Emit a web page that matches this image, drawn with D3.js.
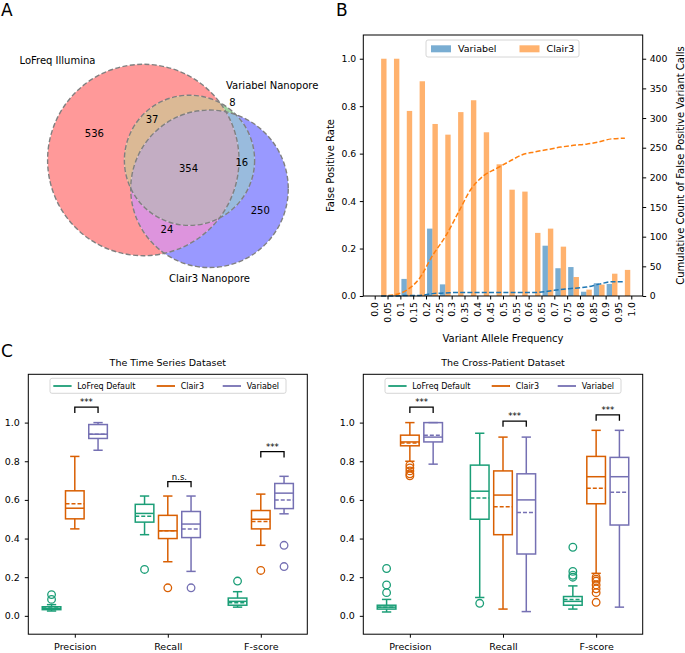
<!DOCTYPE html>
<html>
<head>
<meta charset="utf-8">
<script src="https://cdn.jsdelivr.net/npm/d3@7"></script>
<style>
  body { margin: 0; background: #fff; }
  svg text { font-family: "DejaVu Sans", sans-serif; fill: #000; }
</style>
</head>
<body>
<div id="fig"></div>
<script>
/* ---------- panel A : venn counts ---------- */
var vennSetNames = ["LoFreq Illumina", "Variabel Nanopore", "Clair3 Nanopore"];
var vennRegionCodes = ["100", "010", "001", "110", "101", "011", "111"];
var vennCounts = [536, 8, 250, 37, 24, 16, 354];
var vennColors = ["#ff9999", "#9fd39f", "#9999ff", "#dbb995", "#dd94dd", "#99bbdd", "#c3adc3"];

/* ---------- panel B : false positives by VAF ---------- */
var vafTickLabels = ["0.0", "0.05", "0.1", "0.15", "0.2", "0.25", "0.3", "0.35", "0.4", "0.45", "0.5",
                     "0.55", "0.6", "0.65", "0.7", "0.75", "0.8", "0.85", "0.9", "0.95", "1.0"];
var vafBinCenters = [0.025, 0.075, 0.125, 0.175, 0.225, 0.275, 0.325, 0.375, 0.425, 0.475,
                     0.525, 0.575, 0.625, 0.675, 0.725, 0.775, 0.825, 0.875, 0.925, 0.975];
var variabelRate = [0, 0, 0.072, 0, 0.284, 0.049, 0, 0, 0, 0,
                    0, 0, 0, 0.212, 0.117, 0.122, 0.018, 0.054, 0.051, 0];
var clair3Rate = [1.0, 1.0, 0.78, 0.905, 0.725, 0.68, 0.775, 0.825, 0.69, 0.555,
                  0.448, 0.44, 0.266, 0.284, 0.208, 0.08, 0.027, 0.048, 0.094, 0.11];
var variabelCum = [0, 0, 1, 1, 4, 5, 6, 6, 6, 6, 6, 6, 6, 8, 11, 13, 15, 20, 24, 24];
var clair3Cum = [0, 2, 10, 30, 68, 100, 140, 180, 203, 215,
                 227, 238, 243, 247, 251, 254, 256, 260, 265, 266];

/* ---------- panel C : box statistics [low, q1, median, q3, high, mean] ---------- */
var metrics = ["Precision", "Recall", "F-score"];
var callers = ["LoFreq Default", "Clair3", "Variabel"];
var callerColors = ["#1b9e77", "#d95f02", "#7570b3"];

var tsLofreq = [[0.025, 0.032, 0.038, 0.047, 0.058, 0.040], [0.42, 0.485, 0.53, 0.577, 0.62, 0.515], [0.045, 0.055, 0.075, 0.092, 0.125, 0.068]];
var tsClair3 = [[0.45, 0.502, 0.557, 0.647, 0.825, 0.58], [0.28, 0.40, 0.44, 0.52, 0.62, 0.44], [0.365, 0.45, 0.50, 0.545, 0.63, 0.488]];
var tsVariabel = [[0.857, 0.918, 0.94, 0.99, 1.0, 0.94], [0.23, 0.405, 0.475, 0.54, 0.62, 0.45], [0.528, 0.555, 0.635, 0.685, 0.722, 0.60]];
var tsLofreqOut = [[0.085, 0.11], [0.24], [0.18]];
var tsClair3Out = [[], [0.145], [0.235]];
var tsVariabelOut = [[], [0.145], [0.365, 0.255]];

var cpLofreq = [[0.02, 0.035, 0.045, 0.055, 0.085, 0.045], [0.095, 0.50, 0.645, 0.78, 0.945, 0.61], [0.035, 0.055, 0.075, 0.10, 0.155, 0.085]];
var cpClair3 = [[0.80, 0.88, 0.90, 0.935, 1.0, 0.895], [0.035, 0.42, 0.625, 0.75, 0.925, 0.565], [0.22, 0.58, 0.72, 0.825, 0.96, 0.66]];
var cpVariabel = [[0.785, 0.90, 0.925, 1.0, 1.0, 0.935], [0.022, 0.32, 0.60, 0.735, 0.925, 0.535], [0.045, 0.47, 0.72, 0.82, 0.96, 0.64]];
var cpLofreqOut = [[0.12, 0.16, 0.245], [0.065], [0.20, 0.21, 0.23, 0.355]];
var cpClair3Out = [[0.78, 0.765, 0.75, 0.735, 0.725], [], [0.20, 0.19, 0.18, 0.16, 0.14, 0.12, 0.07]];
var cpVariabelOut = [[], [], []];

/* significance brackets: metric index, bracket base value, label */
var tsSig = [[0, 1.05, "***"], [1, 0.665, "n.s."], [2, 0.82, "***"]];
var cpSig = [[0, 1.05, "***"], [1, 0.978, "***"], [2, 1.01, "***"]];

var W = 685, H = 653;
var svg = d3.select("#fig").append("svg")
    .attr("width", W)
    .attr("height", H)
    .style("display", "block");
svg.append("rect").attr("width", W).attr("height", H).attr("fill", "#fff");

function panelLetter(txt, x, y) {
    svg.append("text").attr("x", x).attr("y", y).attr("font-size", 17).text(txt);
}
panelLetter("A", 1, 16);
panelLetter("B", 336, 16);
panelLetter("C", 1, 357);

/* ================= A : venn ================= */
function drawVenn() {
    var cnt = {};
    vennRegionCodes.forEach(function (c, i) { cnt[c] = vennCounts[i]; });
    function setTotal(k) {
        return d3.sum(vennRegionCodes, function (c) { return c[k] === "1" ? cnt[c] : 0; });
    }
    // circle sizes follow set totals, centres are placed by hand (layout)
    var rScale = d3.scaleSqrt().domain([0, 951]).range([0, 95.7]);
    var radii = [0, 1, 2].map(function (k) { return rScale(setTotal(k)); });
    radii[1] = radii[1] * 1.03;
    var cen = [[143.3, 160], [189.5, 160.3], [209.5, 188.8]];
    // small nudges so the counts sit where the original puts them
    var nudge = { "100": [-14, -18], "010": [5, -7], "001": [15, -2], "110": [-10, -4] };

    var defs = svg.append("defs");
    cen.forEach(function (c, i) {
        defs.append("clipPath").attr("id", "vin" + i)
            .append("circle").attr("cx", c[0]).attr("cy", c[1]).attr("r", radii[i]);
        var m = defs.append("mask").attr("id", "vout" + i);
        m.append("rect").attr("width", W).attr("height", H).attr("fill", "#fff");
        m.append("circle").attr("cx", c[0]).attr("cy", c[1]).attr("r", radii[i]).attr("fill", "#000");
    });
    var gA = svg.append("g");
    vennRegionCodes.forEach(function (code, ri) {
        var g = gA;
        for (var k = 0; k < 3; k++) {
            g = g.append("g");
            if (code[k] === "1") g.attr("clip-path", "url(#vin" + k + ")");
            else g.attr("mask", "url(#vout" + k + ")");
        }
        g.append("rect").attr("x", 0).attr("y", 0).attr("width", 340).attr("height", 320)
            .attr("fill", vennColors[ri]);
    });
    gA.selectAll("circle.outline").data(cen).enter().append("circle")
        .attr("class", "outline")
        .attr("cx", function (d) { return d[0]; })
        .attr("cy", function (d) { return d[1]; })
        .attr("r", function (d, i) { return radii[i]; })
        .attr("fill", "none")
        .attr("stroke", "#808080")
        .attr("stroke-width", 1.4)
        .attr("stroke-dasharray", "5,2.4");

    // region label positions: centroid of sampled points of each region
    var acc = {};
    vennRegionCodes.forEach(function (c) { acc[c] = [0, 0, 0]; });
    for (var px = 40; px < 300; px += 1) {
        for (var py = 55; py < 280; py += 1) {
            var code = cen.map(function (c, i) {
                var dx = px - c[0], dy = py - c[1];
                return dx * dx + dy * dy <= radii[i] * radii[i] ? "1" : "0";
            }).join("");
            if (acc[code]) { acc[code][0] += px; acc[code][1] += py; acc[code][2] += 1; }
        }
    }
    gA.selectAll("text.count").data(vennRegionCodes).enter().append("text")
        .attr("class", "count")
        .attr("x", function (c) { return acc[c][0] / acc[c][2] + (nudge[c] ? nudge[c][0] : 0); })
        .attr("y", function (c) { return acc[c][1] / acc[c][2] + (nudge[c] ? nudge[c][1] : 0); })
        .attr("dy", "0.35em")
        .attr("text-anchor", "middle")
        .attr("font-size", 10)
        .text(function (c) { return cnt[c]; });

    gA.append("text").attr("x", cen[0][0] - radii[0] / 2).attr("y", cen[0][1] - radii[0])
        .attr("text-anchor", "end").attr("font-size", 10).text(vennSetNames[0]);
    gA.append("text").attr("x", cen[1][0] + radii[1] / 2 + 4).attr("y", cen[1][1] - radii[1] - 6)
        .attr("text-anchor", "start").attr("font-size", 10).text(vennSetNames[1]);
    gA.append("text").attr("x", cen[2][0]).attr("y", cen[2][1] + radii[2] + 7)
        .attr("dy", "0.75em")
        .attr("text-anchor", "middle").attr("font-size", 10).text(vennSetNames[2]);
}
drawVenn();

/* ================= B : bars + cumulative ================= */
function drawB() {
    var L = 363.3, R = 642.7, T = 35, B = 296;
    var x = d3.scaleLinear().domain([-0.0445, 1.0445]).range([L, R]);
    var y = d3.scaleLinear().domain([0, 1.1]).range([B, T]);
    var y2 = d3.scaleLinear().domain([0, 440]).range([B, T]);
    var bw = x(0.021) - x(0);
    var g = svg.append("g");

    g.selectAll("rect.var").data(vafBinCenters).enter().append("rect")
        .attr("x", function (d) { return x(d) - bw; })
        .attr("y", function (d, i) { return y(variabelRate[i]); })
        .attr("width", bw)
        .attr("height", function (d, i) { return B - y(variabelRate[i]); })
        .attr("fill", "#1f77b4").attr("fill-opacity", 0.6);
    g.selectAll("rect.cl").data(vafBinCenters).enter().append("rect")
        .attr("x", function (d) { return x(d); })
        .attr("y", function (d, i) { return y(clair3Rate[i]); })
        .attr("width", bw)
        .attr("height", function (d, i) { return B - y(clair3Rate[i]); })
        .attr("fill", "#ff7f0e").attr("fill-opacity", 0.6);

    var line = function (vals) {
        return d3.line()
            .x(function (d) { return x(d); })
            .y(function (d, i) { return y2(vals[i]); })
            .curve(d3.curveMonotoneX)(vafBinCenters);
    };
    g.append("path").attr("d", line(clair3Cum)).attr("fill", "none")
        .attr("stroke", "#ff7f0e").attr("stroke-width", 1.5).attr("stroke-dasharray", "5,2.2");
    g.append("path").attr("d", line(variabelCum)).attr("fill", "none")
        .attr("stroke", "#1f77b4").attr("stroke-width", 1.5).attr("stroke-dasharray", "5,2.2");

    g.append("rect").attr("x", L).attr("y", T).attr("width", R - L).attr("height", B - T)
        .attr("fill", "none").attr("stroke", "#000").attr("stroke-width", 1);

    var xTickVals = vafTickLabels.map(function (s) { return +s; });
    var xa = g.append("g").attr("transform", "translate(0," + B + ")")
        .call(d3.axisBottom(x).tickValues(xTickVals).tickSize(3.5).tickFormat(function (d, i) { return vafTickLabels[i]; }));
    xa.select(".domain").remove();
    xa.selectAll("text")
        .attr("font-size", 9.3).attr("font-family", "DejaVu Sans")
        .attr("text-anchor", "end")
        .attr("transform", "rotate(-90)")
        .attr("x", -6).attr("y", 0).attr("dy", "0.35em");
    var ya = g.append("g").attr("transform", "translate(" + L + ",0)")
        .call(d3.axisLeft(y).tickValues([0, 0.2, 0.4, 0.6, 0.8, 1.0]).tickSize(3.5).tickPadding(3.5).tickFormat(d3.format(".1f")));
    ya.select(".domain").remove();
    ya.selectAll("text").attr("font-size", 9.3).attr("font-family", "DejaVu Sans");
    var ya2 = g.append("g").attr("transform", "translate(" + R + ",0)")
        .call(d3.axisRight(y2).tickValues(d3.range(0, 401, 50)).tickSize(3.5).tickPadding(3.5));
    ya2.select(".domain").remove();
    ya2.selectAll("text").attr("font-size", 9.3).attr("font-family", "DejaVu Sans");

    g.append("text").attr("transform", "translate(330," + (T + B) / 2 + ") rotate(-90)")
        .attr("text-anchor", "middle").attr("font-size", 10).attr("dy", "0.35em").text("False Positive Rate");
    g.append("text").attr("transform", "translate(680.5," + (T + B) / 2 + ") rotate(-90)")
        .attr("text-anchor", "middle").attr("font-size", 10).attr("dy", "0.35em")
        .text("Cumulative Count of False Positive Variant Calls");
    g.append("text").attr("x", (L + R) / 2).attr("y", 341.8).attr("text-anchor", "middle")
        .attr("font-size", 10).text("Variant Allele Frequency");

    // legend
    var lg = g.append("g");
    lg.append("rect").attr("x", 426).attr("y", 40).attr("width", 153).attr("height", 17)
        .attr("rx", 2).attr("fill", "#fff").attr("fill-opacity", 0.8).attr("stroke", "#cccccc").attr("stroke-width", 0.8);
    var items = [["Variabel", "#1f77b4", 431], ["Clair3", "#ff7f0e", 519.5]];
    items.forEach(function (it) {
        lg.append("rect").attr("x", it[2]).attr("y", 45.3).attr("width", 20).attr("height", 7)
            .attr("fill", it[1]).attr("fill-opacity", 0.6);
        lg.append("text").attr("x", it[2] + 27).attr("y", 48.8).attr("dy", "0.35em")
            .attr("font-size", 9.5).text(it[0]);
    });
}
drawB();

/* ================= C : box plots ================= */
function drawBoxes(L, R, title, stats, outs, sig) {
    var T = 374.3, B = 634.2;
    var x = d3.scaleLinear().domain([0.5, 3.5]).range([L, R]);
    var y = d3.scaleLinear().domain([-0.095, 1.25]).range([B, T]);
    var offs = [-0.25, 0, 0.25], bwid = 0.2;
    var g = svg.append("g");

    stats.forEach(function (callerStats, ci) {
        var col = callerColors[ci];
        var gc = g.append("g").attr("stroke", col).attr("fill", "none").attr("stroke-width", 1.5);
        callerStats.forEach(function (s, mi) {
            var cx = x(mi + 1 + offs[ci]);
            var hw = (x(bwid) - x(0)) / 2;
            var cw = hw / 2;
            gc.append("line").attr("x1", cx).attr("x2", cx).attr("y1", y(s[3])).attr("y2", y(s[4]));
            gc.append("line").attr("x1", cx).attr("x2", cx).attr("y1", y(s[1])).attr("y2", y(s[0]));
            gc.append("line").attr("x1", cx - cw).attr("x2", cx + cw).attr("y1", y(s[4])).attr("y2", y(s[4]));
            gc.append("line").attr("x1", cx - cw).attr("x2", cx + cw).attr("y1", y(s[0])).attr("y2", y(s[0]));
            gc.append("rect").attr("x", cx - hw).attr("y", y(s[3])).attr("width", 2 * hw)
                .attr("height", y(s[1]) - y(s[3]));
            gc.append("line").attr("x1", cx - hw).attr("x2", cx + hw).attr("y1", y(s[2])).attr("y2", y(s[2]));
            gc.append("line").attr("x1", cx - hw).attr("x2", cx + hw).attr("y1", y(s[5])).attr("y2", y(s[5]))
                .attr("stroke-dasharray", "4,2");
            outs[ci][mi].forEach(function (v) {
                gc.append("circle").attr("cx", cx).attr("cy", y(v)).attr("r", 3.8).attr("stroke-width", 1.3);
            });
        });
    });

    sig.forEach(function (s) {
        var xa = x(s[0] + 1 + offs[1]), xb = x(s[0] + 1 + offs[2]);
        var yb = y(s[1]), yt = y(s[1] + 0.03);
        g.append("path").attr("d", "M" + xa + "," + yb + "V" + yt + "H" + xb + "V" + yb)
            .attr("fill", "none").attr("stroke", "#000").attr("stroke-width", 1.3);
        g.append("text").attr("x", (xa + xb) / 2).attr("y", yt - 2).attr("text-anchor", "middle")
            .attr("font-size", 8.5).text(s[2]);
    });

    g.append("rect").attr("x", L).attr("y", T).attr("width", R - L).attr("height", B - T)
        .attr("fill", "none").attr("stroke", "#000").attr("stroke-width", 1);

    var xa = g.append("g").attr("transform", "translate(0," + B + ")")
        .call(d3.axisBottom(x).tickValues([1, 2, 3]).tickSize(3.5).tickPadding(3.5)
            .tickFormat(function (d) { return metrics[d - 1]; }));
    xa.select(".domain").remove();
    xa.selectAll("text").attr("font-size", 9.5).attr("font-family", "DejaVu Sans").attr("y", 9.5);
    var ya = g.append("g").attr("transform", "translate(" + L + ",0)")
        .call(d3.axisLeft(y).tickValues([0, 0.2, 0.4, 0.6, 0.8, 1.0]).tickSize(3.5).tickPadding(5)
            .tickFormat(d3.format(".1f")));
    ya.select(".domain").remove();
    ya.selectAll("text").attr("font-size", 9.5).attr("font-family", "DejaVu Sans");

    g.append("text").attr("x", (L + R) / 2).attr("y", 366.3).attr("text-anchor", "middle")
        .attr("font-size", 9.5).text(title);

    // legend
    var lx = L + 21.7, lw = 236;
    var lg = g.append("g");
    lg.append("rect").attr("x", lx).attr("y", 378.3).attr("width", lw).attr("height", 15)
        .attr("rx", 2).attr("fill", "#fff").attr("fill-opacity", 0.8).attr("stroke", "#cccccc").attr("stroke-width", 0.8);
    var pos = [3.3, 106.7, 172.7];
    callers.forEach(function (c, i) {
        lg.append("line").attr("x1", lx + pos[i]).attr("x2", lx + pos[i] + 18.3)
            .attr("y1", 386).attr("y2", 386).attr("stroke", callerColors[i]).attr("stroke-width", 1.8);
        lg.append("text").attr("x", lx + pos[i] + 24).attr("y", 386).attr("dy", "0.35em")
            .attr("font-size", 8).text(c);
    });
}
drawBoxes(28.3, 307.3, "The Time Series Dataset",
    [tsLofreq, tsClair3, tsVariabel], [tsLofreqOut, tsClair3Out, tsVariabelOut], tsSig);
drawBoxes(363.3, 642.7, "The Cross-Patient Dataset",
    [cpLofreq, cpClair3, cpVariabel], [cpLofreqOut, cpClair3Out, cpVariabelOut], cpSig);
</script>
</body>
</html>
